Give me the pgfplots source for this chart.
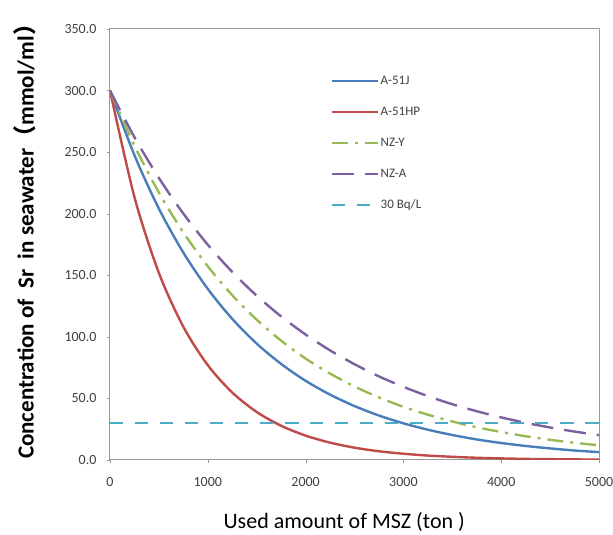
\documentclass[border=0pt]{standalone}
\usepackage{fontspec}
\setmainfont{Carlito}
\newfontfamily\cjk{Noto Sans CJK SC}
\usepackage{pgfplots}
\pgfplotsset{compat=1.18}

\definecolor{cA}{HTML}{4A7EBB}
\definecolor{cB}{HTML}{BE4B48}
\definecolor{cC}{HTML}{98B954}
\definecolor{cD}{HTML}{7D60A0}
\definecolor{cE}{HTML}{4BACC6}

\begin{document}
\begin{tikzpicture}
\begin{axis}[
    scale only axis,
    width=489pt, height=431pt,
    xmin=0, xmax=5000,
    ymin=0, ymax=350,
    xtick={0,1000,...,5000},
    ytick={0,50,...,350},
    axis line style={draw=black!40, line width=1pt},
    tick style={draw=black!40},
    tick align=outside,
    major tick length=3pt,
    xtick pos=bottom, ytick pos=left,
    /pgf/number format/assume math mode=true,
    x tick label style={/pgf/number format/1000 sep={}, font=\fontsize{14}{16}\selectfont, text=black!75},
    y tick label style={/pgf/number format/.cd, fixed, fixed zerofill, precision=1, /tikz/.cd, font=\fontsize{14}{16}\selectfont, text=black!75},
    xticklabel shift=11pt,
    yticklabel shift=7pt,
    xlabel={Used amount of MSZ (ton )},
    xlabel style={font=\fontsize{22}{25}\selectfont, at={(axis description cs:0.479,-0.143)}, anchor=center},
    ylabel={Concentration of\ \ Sr\ \ in seawater{\cjk （}mmol/ml{\cjk ）}},
    ylabel style={font=\bfseries\fontsize{23}{26}\selectfont, at={(axis description cs:-0.174,0.52)}, anchor=center},
    legend style={draw=none, fill=none, at={(axis description cs:0.444,0.90)}, anchor=north west,
        font=\fontsize{13}{15}\selectfont, text=black!75, row sep=17pt},
    legend cell align=left,
    legend image code/.code={\draw[#1] (0pt,0pt) -- (46pt,0pt);},
    every axis plot/.append style={line width=2.4pt, smooth},
]
\addplot[cA] coordinates {
 (0,300) (250,247.5) (500,204.1) (750,168.4) (1000,138.9) (1250,114.6)
 (1500,94.5) (1750,78.0) (2000,64.3) (2250,53.1) (2500,43.8) (2750,36.1)
 (3000,29.8) (3250,24.6) (3500,20.3) (3750,16.7) (4000,13.8) (4250,11.4)
 (4500,9.4) (4750,7.7) (5000,6.4)};
\addlegendentry{A-51J}
\addplot[cB] coordinates {
 (0,300) (250,213.5) (500,151.9) (750,108.2) (1000,77.0) (1250,54.8)
 (1500,39.0) (1750,27.8) (2000,19.8) (2250,14.1) (2500,10.0) (2750,7.1)
 (3000,5.1) (3250,3.6) (3500,2.6) (3750,1.8) (4000,1.3) (4250,0.9)
 (4500,0.7) (4750,0.5) (5000,0.3)};
\addlegendentry{A-51HP}
\addplot[cC, dash pattern=on 16pt off 7pt on 3pt off 7pt] coordinates {
 (0,300) (250,255.3) (500,217.2) (750,184.8) (1000,157.3) (1250,133.8)
 (1500,113.9) (1750,96.9) (2000,82.4) (2250,70.2) (2500,59.7) (2750,50.8)
 (3000,43.2) (3250,36.8) (3500,31.3) (3750,26.6) (4000,22.7) (4250,19.3)
 (4500,16.4) (4750,14.0) (5000,11.9)};
\addlegendentry{NZ-Y}
\addplot[cD, dash pattern=on 22pt off 11pt] coordinates {
 (0,300) (250,262.1) (500,229.0) (750,200.1) (1000,174.8) (1250,152.7)
 (1500,133.4) (1750,116.6) (2000,101.9) (2250,89.0) (2500,77.8) (2750,67.9)
 (3000,59.4) (3250,51.9) (3500,45.3) (3750,39.6) (4000,34.6) (4250,30.2)
 (4500,26.4) (4750,23.1) (5000,20.2)};
\addlegendentry{NZ-A}
\addplot[cE, dash pattern=on 13pt off 12pt] coordinates {(0,30) (5000,30)};
\addlegendentry{30 Bq/L}
\end{axis}
\pgfresetboundingbox
\path (current axis.south west) ++(-110pt,-75pt) coordinate (bbA);
\path (current axis.north east) ++(14pt,29pt) coordinate (bbB);
\useasboundingbox (bbA) rectangle (bbB);
\end{tikzpicture}
\end{document}
